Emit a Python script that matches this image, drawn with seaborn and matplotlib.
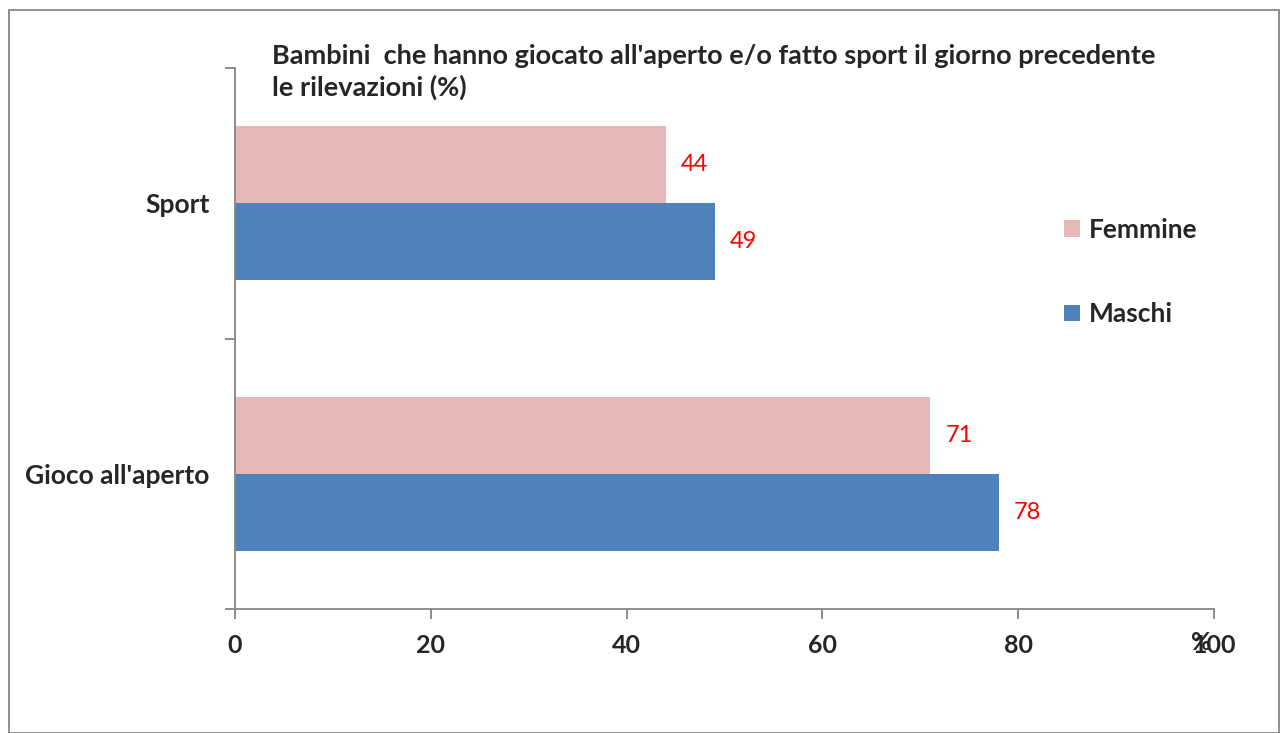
import pandas as pd
import numpy as np
import matplotlib
matplotlib.use("Agg")
import matplotlib.pyplot as plt
import seaborn as sns
from matplotlib.patches import Rectangle

categories = ["Sport", "Gioco all'aperto"]
femmine = [44, 71]
maschi = [49, 78]
series = ["Femmine", "Maschi"]
colors = ["#E6B9B8", "#4F81BD"]
x_ticks = [0, 20, 40, 60, 80, 100]
title = "Bambini  che hanno giocato all'aperto e/o fatto sport il giorno precedente\nle rilevazioni (%)"

df = pd.DataFrame({
    "Attività": categories * 2,
    "Valore": femmine + maschi,
    "Sesso": ["Femmine"] * len(categories) + ["Maschi"] * len(categories),
})

sns.set_style("white")
plt.rcParams["font.family"] = ["Lato", "DejaVu Sans"]

fig = plt.figure(figsize=(12.84, 7.33), dpi=100)
ax = fig.add_axes([235 / 1284, 124 / 733, 979 / 1284, 541 / 733])

sns.barplot(data=df, y="Attività", x="Valore", hue="Sesso", order=categories,
            hue_order=series, palette=colors, orient="h", width=0.57,
            saturation=1, linewidth=0, ax=ax, legend=True)

for cont in ax.containers:
    ax.bar_label(cont, padding=11, color="red", fontsize=17)

ax.set_xlim(0, 100)
ax.set_ylim(1.5, -0.5)
ax.set_xticks(x_ticks)
ax.set_xticklabels([str(t) for t in x_ticks], fontsize=18, fontweight="bold")
ax.set_yticks(range(len(categories)))
ax.set_yticklabels(categories, fontsize=19, fontweight="bold")
ax.set_yticks([-0.5, 0.5, 1.5], minor=True)
ax.tick_params(axis="y", which="major", left=False, pad=15)
ax.tick_params(axis="y", which="minor", left=True, length=7, color="#868686",
               width=1.3, direction="out")
ax.tick_params(axis="x", bottom=True, length=7, color="#868686", width=1.3,
               direction="out", pad=11)
ax.set_xlabel("")
ax.set_ylabel("")
for s in ["top", "right"]:
    ax.spines[s].set_visible(False)
for s in ["left", "bottom"]:
    ax.spines[s].set_color("#868686")
    ax.spines[s].set_linewidth(1.3)

handles, labels = ax.get_legend_handles_labels()
ax.legend_.remove()
leg = fig.legend(handles, labels, loc="center left", bbox_to_anchor=(1040 / 1284, 1 - 272 / 733),
                 frameon=False, labelspacing=2.3, handlelength=0.6, handleheight=0.6,
                 handletextpad=0.35, prop={"size": 19, "weight": "bold"})

fig.text(272 / 1284, 1 - 72 / 733, title, fontsize=19.5, fontweight="bold",
         ha="left", va="center", linespacing=1.3)
fig.text(1201 / 1284, 1 - 642 / 733, "%", fontsize=18, fontweight="bold",
         ha="center", va="center")

fig.patches.append(Rectangle((9 / 1284, 0), 1270 / 1284, 1 - 10 / 733,
                             transform=fig.transFigure, fill=False,
                             edgecolor="#868686", linewidth=1.3))

fig.savefig("out.png", dpi=100)
